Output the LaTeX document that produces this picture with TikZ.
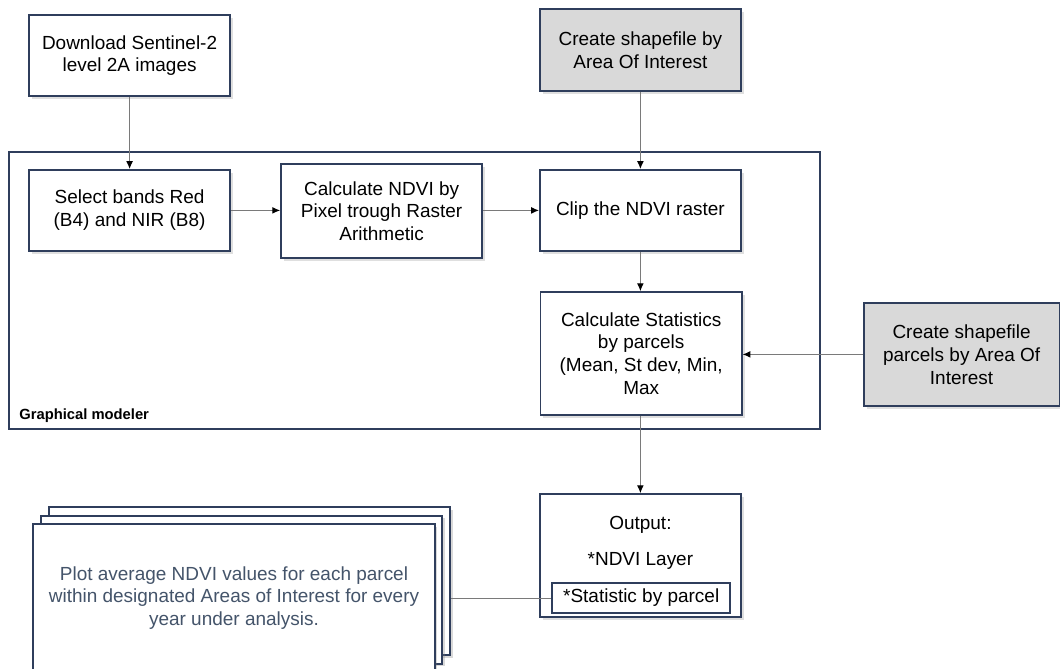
\documentclass[tikz,border=0pt]{standalone}
\usepackage{fontspec}
\setmainfont{Liberation Sans}
\usepackage{xcolor}
\usepackage{tikz}
\usetikzlibrary{shadows}
\usetikzlibrary{positioning, arrows.meta, calc}

\definecolor{boxline}{HTML}{2F3E5C}
\definecolor{aoifill}{HTML}{D9D9D9}
\definecolor{flowline}{HTML}{7A7A7A}
\definecolor{plottext}{HTML}{44546A}

\begin{document}
\begin{tikzpicture}[
    font=\fontsize{13.5}{16.3}\selectfont,
    procbox/.style={draw=boxline, line width=1.2pt, rectangle, minimum width=5.03cm, minimum height=2.03cm, align=center, fill=white,
        drop shadow={shadow xshift=2pt, shadow yshift=-2pt, opacity=0.25}},
    inputbox/.style={procbox, fill=aoifill},
    modelframe/.style={draw=boxline, line width=1.4pt, rectangle, minimum width=20.28cm, minimum height=6.93cm},
    plotcard/.style={draw=boxline, line width=1.4pt, rectangle, minimum width=10.03cm, minimum height=3.7cm, fill=white,
        drop shadow={shadow xshift=2pt, shadow yshift=-2pt, opacity=0.3}},
    flow/.style={draw=flowline, line width=0.7pt, -{Latex[length=5.5pt, width=4.8pt, color=black]}}
]
    \clip (0,0) rectangle (26.5,-16.7);
    \useasboundingbox (0,0) rectangle (26.5,-16.7);

    % ================= GRAPHICAL MODELER FRAME =================
    \node[modelframe] (modeler) at (10.36, -7.26) {};
    \node[anchor=west, font=\fontsize{10.5}{12}\selectfont\bfseries] (modelerlabel) at (0.36, -10.38) {Graphical modeler};

    % ================= INPUTS =================
    \node[procbox] (DL) at (3.24, -1.39) {Download Sentinel-2\\level 2A images};
    \node[inputbox, minimum height=2.05cm] (AOI) at (16.01, -1.25) {Create shapefile by\\Area Of Interest};
    \node[inputbox, minimum width=4.89cm, minimum height=2.58cm] (PARC) at (24.04, -8.86) {Create shapefile\\parcels by Area Of\\Interest};

    % ================= PROCESSING STEPS =================
    \node[procbox] (SEL) at (3.24, -5.26) {Select bands Red\\(B4) and NIR (B8)};
    \node[procbox, minimum height=2.35cm] (NDVI) at (9.54, -5.28) {Calculate NDVI by\\Pixel trough Raster\\Arithmetic};
    \node[procbox] (CLIP) at (16.01, -5.26) {Clip the NDVI raster};
    \node[procbox, minimum height=3.08cm] (STATS) at (16.03, -8.84) {Calculate Statistics\\by parcels\\(Mean, St dev, Min,\\Max};

    % ================= OUTPUT =================
    \node[procbox, minimum height=3.08cm] (OUT) at (16.01, -13.89) {};
    \node (OUTTITLE) at (16.01, -13.13) {Output:};
    \node (OUTLAYER) at (16.01, -14.03) {*NDVI Layer};
    \node[draw=boxline, line width=1.2pt, minimum width=4.45cm, minimum height=0.75cm, inner sep=0pt] (OUTSTAT) at (16.03, -14.95) {*Statistic by parcel};

    % ================= PLOT CARDS =================
    \draw[flowline, line width=0.6pt] (11.2, -14.95) -- (OUTSTAT.west);
    \node[plotcard] (PLOTC) at (6.24, -14.53) {};
    \node[plotcard] (PLOTB) at (6.03, -14.74) {};
    \node[plotcard, align=center, text=plottext] (PLOT) at (5.85, -14.95)
        {Plot average NDVI values for each parcel\\within designated Areas of Interest for every\\year under analysis.};

    % ================= CONNECTIONS =================
    \draw[flow] (DL.south) -- (SEL.north);
    \draw[flow] (AOI.south) -- (CLIP.north);
    \draw[flow] (SEL.east) -- (SEL.east -| NDVI.west);
    \draw[flow] (NDVI.east |- CLIP.west) -- (CLIP.west);
    \draw[flow] (CLIP.south) -- (CLIP.south |- STATS.north);
    \draw[flow] (PARC.west) -- (PARC.west -| STATS.east);
    \draw[flow] (STATS.south -| OUT.north) -- (OUT.north);

\end{tikzpicture}
\end{document}
